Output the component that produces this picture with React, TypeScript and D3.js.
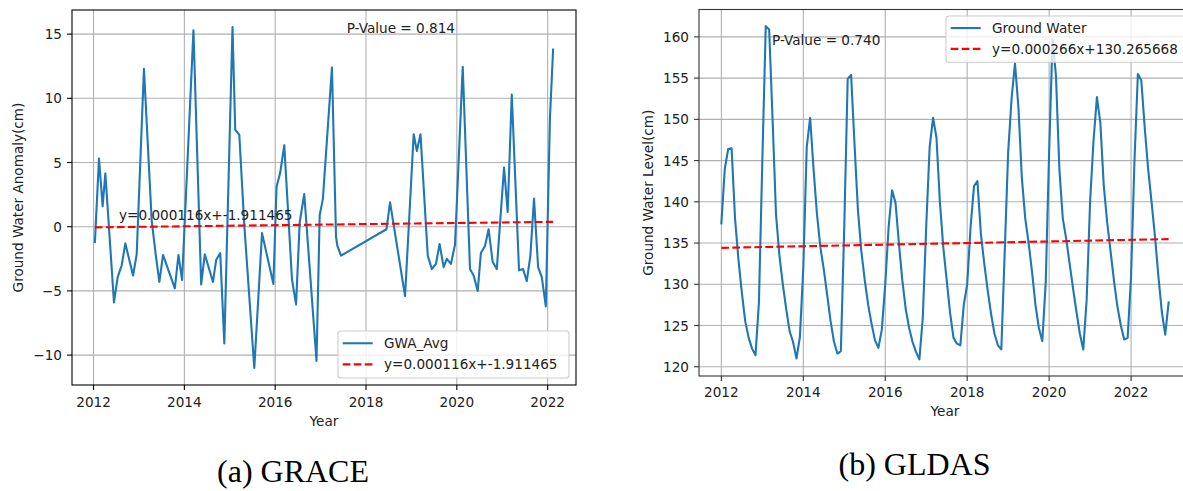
import React from 'react';
import * as d3 from 'd3';

// ---------- GRACE (a) ----------
const graceYears = [
  2012.03, 2012.12, 2012.2, 2012.26, 2012.45, 2012.53, 2012.62, 2012.7, 2012.87, 2012.95,
  2013.11, 2013.28, 2013.37, 2013.45, 2013.53, 2013.79, 2013.87, 2013.95,
  2014.2, 2014.37, 2014.45, 2014.63, 2014.7, 2014.79, 2014.88,
  2015.06, 2015.12, 2015.21, 2015.32, 2015.54, 2015.71, 2015.96,
  2016.03, 2016.11, 2016.2, 2016.37, 2016.46, 2016.54, 2016.64, 2016.91, 2016.98,
  2017.05, 2017.25, 2017.34, 2017.37, 2017.45,
  2018.45, 2018.53, 2018.86,
  2019.05, 2019.12, 2019.2, 2019.36, 2019.45, 2019.54, 2019.62, 2019.71, 2019.78, 2019.87, 2019.96,
  2020.13, 2020.29, 2020.37, 2020.46, 2020.53, 2020.62, 2020.7, 2020.79, 2020.88,
  2021.04, 2021.12, 2021.21, 2021.37, 2021.46, 2021.54, 2021.62, 2021.7, 2021.79, 2021.87, 2021.96,
  2022.05, 2022.12,
];
const graceValues = [
  -1.2, 5.3, 1.6, 4.15, -5.9, -3.95, -3.0, -1.3, -3.8, -2.15,
  12.3, 0.5, -2.2, -4.3, -2.2, -4.8, -2.2, -4.15,
  15.3, -4.5, -2.15, -4.3, -2.6, -2.05, -9.1,
  15.55, 7.55, 7.15, 0.1, -11.0, -0.5, -4.45,
  3.1, 4.2, 6.35, -4.1, -6.05, 0.35, 2.55, -10.45, 0.9,
  2.15, 12.4, -0.8, -1.5, -2.25,
  -0.2, 1.9, -5.4,
  7.2, 5.9, 7.2, -2.25, -3.3, -2.9, -1.35, -3.15, -2.5, -2.9, -1.4,
  12.45, -3.3, -3.8, -5.0, -2.05, -1.5, -0.2, -2.75, -3.3,
  4.6, 1.15, 10.3, -3.4, -3.3, -4.25, -2.25, 2.2, -3.15, -3.9, -6.2,
  8.4, 13.8,
];
const graceTrendYears = [2012.03, 2022.12];
const graceTrendValues = [-0.05, 0.38];
const graceYTicks = [-10, -5, 0, 5, 10, 15];

// ---------- GLDAS (b) ----------
const gldasYearList = [2012, 2013, 2014, 2015, 2016, 2017, 2018, 2019, 2020, 2021, 2022];
const gldas2012 = [137.4, 144.0, 146.4, 146.5, 138.0, 133.0, 129.0, 125.5, 123.5, 122.2, 121.4, 127.8];
const gldas2013 = [145.0, 161.3, 160.9, 150.0, 138.5, 133.5, 130.0, 127.0, 124.3, 123.0, 121.0, 123.6];
const gldas2014 = [132.0, 146.6, 150.2, 144.0, 138.5, 134.5, 131.8, 128.7, 125.5, 123.0, 121.6, 121.9];
const gldas2015 = [137.0, 154.9, 155.4, 147.0, 139.0, 134.0, 130.5, 127.5, 125.2, 123.2, 122.3, 124.5];
const gldas2016 = [130.0, 137.0, 141.4, 139.9, 135.0, 130.5, 127.0, 124.7, 123.0, 121.8, 120.9, 126.0];
const gldas2017 = [137.0, 146.6, 150.2, 147.8, 140.0, 134.5, 130.5, 126.5, 123.5, 122.8, 122.6, 127.5];
const gldas2018 = [130.0, 137.0, 141.9, 142.5, 136.2, 132.5, 129.3, 126.4, 124.0, 122.6, 122.1, 134.0];
const gldas2019 = [146.0, 152.5, 156.8, 151.5, 143.0, 138.0, 135.0, 131.5, 127.5, 124.7, 123.1, 130.2];
const gldas2020 = [146.0, 159.7, 155.3, 144.0, 138.0, 135.5, 132.5, 129.5, 126.7, 124.0, 122.1, 128.2];
const gldas2021 = [140.0, 147.4, 152.7, 149.6, 142.0, 137.5, 134.0, 130.4, 127.3, 125.0, 123.3, 123.5];
const gldas2022 = [131.0, 145.0, 155.5, 154.7, 149.0, 144.0, 140.0, 135.8, 131.0, 126.7, 123.9, 127.8];
const gldasByYear = [gldas2012, gldas2013, gldas2014, gldas2015, gldas2016, gldas2017, gldas2018, gldas2019, gldas2020, gldas2021, gldas2022];
const gldasTrendYears = [2012.0, 2022.917];
const gldasTrendValues = [134.42, 135.48];
const gldasYTicks = [120, 125, 130, 135, 140, 145, 150, 155, 160];

const xTickYears = [2012, 2014, 2016, 2018, 2020, 2022];

type Pt = { x: number; y: number };

const BLUE = '#1f77b4';
const RED = '#ff0000';
const FONT = 'DejaVu Sans, sans-serif';
const FS = 13.6;

function fmt(v: number) {
  return v < 0 ? '\u2212' + Math.abs(v) : String(v);
}

function padded(ext: [number, number]): [number, number] {
  const r = ext[1] - ext[0];
  return [ext[0] - r * 0.05, ext[1] + r * 0.05];
}

type PanelProps = {
  id: string;
  box: { l: number; r: number; t: number; b: number };
  series: Pt[];
  trend: Pt[];
  yTicks: number[];
  yLabel: string;
  yLabelX: number;
  xLabelY: number;
  xTickLabelY: number;
  pText: string;
  pPos: [number, number];
  eqText?: string;
  eqPos?: [number, number];
  legend: { l: number; r: number; t: number; b: number; label1: string; label2: string };
  spine: string;
};

function Panel(p: PanelProps) {
  const { box } = p;
  const all = p.series.concat(p.trend);
  const x = d3.scaleLinear().domain(padded(d3.extent(all, (d) => d.x) as [number, number])).range([box.l, box.r]);
  const y = d3.scaleLinear().domain(padded(d3.extent(all, (d) => d.y) as [number, number])).range([box.b, box.t]);
  const line = d3.line<Pt>().x((d) => x(d.x)).y((d) => y(d.y));
  const lg = p.legend;
  const row1 = lg.t + (lg.b - lg.t) * 0.25 + 0.5;
  const row2 = lg.t + (lg.b - lg.t) * 0.7 + 0.5;
  return (
    <g>
      <defs>
        <clipPath id={p.id}>
          <rect x={box.l} y={box.t} width={box.r - box.l} height={box.b - box.t} />
        </clipPath>
      </defs>
      {/* grid */}
      <g stroke="#b0b0b0" strokeWidth={1.1}>
        {xTickYears.map((t) => (
          <line key={'gx' + t} x1={x(t)} x2={x(t)} y1={box.t} y2={box.b} />
        ))}
        {p.yTicks.map((t) => (
          <line key={'gy' + t} x1={box.l} x2={box.r} y1={y(t)} y2={y(t)} />
        ))}
      </g>
      <g clipPath={`url(#${p.id})`}>
        <path d={line(p.series) || ''} fill="none" stroke={BLUE} strokeWidth={2.1} strokeLinejoin="round" strokeLinecap="square" />
        <path d={line(p.trend) || ''} fill="none" stroke={RED} strokeWidth={2.1} strokeDasharray="7.7 3.3" />
      </g>
      {/* spines */}
      <rect x={box.l} y={box.t} width={box.r - box.l} height={box.b - box.t} fill="none" stroke={p.spine} strokeWidth={1.1} />
      {/* ticks */}
      <g stroke={p.spine} strokeWidth={1.1}>
        {xTickYears.map((t) => (
          <line key={'tx' + t} x1={x(t)} x2={x(t)} y1={box.b} y2={box.b + 4.9} />
        ))}
        {p.yTicks.map((t) => (
          <line key={'ty' + t} x1={box.l - 4.9} x2={box.l} y1={y(t)} y2={y(t)} />
        ))}
      </g>
      <g fontFamily={FONT} fontSize={FS} fill="#222">
        {xTickYears.map((t) => (
          <text key={'lx' + t} x={x(t)} y={p.xTickLabelY} textAnchor="middle">
            {String(t)}
          </text>
        ))}
        {p.yTicks.map((t) => (
          <text key={'ly' + t} x={box.l - 10} y={y(t) + 5} textAnchor="end">
            {fmt(t)}
          </text>
        ))}
        <text x={(box.l + box.r) / 2} y={p.xLabelY} textAnchor="middle">
          Year
        </text>
        <text transform={`translate(${p.yLabelX},${(box.t + box.b) / 2}) rotate(-90)`} textAnchor="middle">
          {p.yLabel}
        </text>
        <text x={p.pPos[0]} y={p.pPos[1]}>
          {p.pText}
        </text>
        {p.eqText && p.eqPos ? (
          <text x={p.eqPos[0]} y={p.eqPos[1]}>
            {p.eqText}
          </text>
        ) : null}
      </g>
      {/* legend */}
      <g>
        <rect x={lg.l} y={lg.t} width={lg.r - lg.l} height={lg.b - lg.t} rx={3} fill="white" fillOpacity={0.8} stroke="#cccccc" strokeWidth={1.1} />
        <line x1={lg.l + 4.7} x2={lg.l + 34.7} y1={row1} y2={row1} stroke={BLUE} strokeWidth={2.1} />
        <line x1={lg.l + 4.7} x2={lg.l + 34.7} y1={row2} y2={row2} stroke={RED} strokeWidth={2.1} strokeDasharray="7.7 3.3" />
        <g fontFamily={FONT} fontSize={FS} fill="#222">
          <text x={lg.l + 46} y={row1 + 5}>
            {lg.label1}
          </text>
          <text x={lg.l + 46} y={row2 + 5}>
            {lg.label2}
          </text>
        </g>
      </g>
    </g>
  );
}

export default function App() {
  const graceSeries: Pt[] = graceYears.map((yr, i) => ({ x: yr, y: graceValues[i] }));
  const graceTrend: Pt[] = graceTrendYears.map((yr, i) => ({ x: yr, y: graceTrendValues[i] }));
  const gldasSeries: Pt[] = [];
  gldasYearList.forEach((yr, yi) => {
    gldasByYear[yi].forEach((v, m) => gldasSeries.push({ x: yr + m / 12, y: v }));
  });
  const gldasTrend: Pt[] = gldasTrendYears.map((yr, i) => ({ x: yr, y: gldasTrendValues[i] }));

  return (
    <svg width={1183} height={491} style={{ position: 'absolute', left: 0, top: 0, background: 'white' }}>
      <rect x={0} y={0} width={1183} height={491} fill="white" />
      <Panel
        id="clipA"
        box={{ l: 72, r: 576, t: 10, b: 385 }}
        series={graceSeries}
        trend={graceTrend}
        yTicks={graceYTicks}
        yLabel="Ground Water Anomaly(cm)"
        yLabelX={23}
        xLabelY={425.5}
        xTickLabelY={406.5}
        pText="P-Value = 0.814"
        pPos={[346.7, 33]}
        eqText="y=0.000116x+-1.911465"
        eqPos={[119, 220]}
        legend={{ l: 338, r: 569, t: 331, b: 378, label1: 'GWA_Avg', label2: 'y=0.000116x+-1.911465' }}
        spine="#000"
      />
      <Panel
        id="clipB"
        box={{ l: 699, r: 1191, t: 9.5, b: 376 }}
        series={gldasSeries}
        trend={gldasTrend}
        yTicks={gldasYTicks}
        yLabel="Ground Water Level(cm)"
        yLabelX={653}
        xLabelY={416}
        xTickLabelY={397}
        pText="P-Value = 0.740"
        pPos={[772, 44.5]}
        legend={{ l: 946, r: 1186, t: 16, b: 62.3, label1: 'Ground Water', label2: 'y=0.000266x+130.265668' }}
        spine="#333"
      />
      <g fontFamily="Liberation Serif, Times New Roman, serif" fontSize={32} fill="#000">
        <text x={293} y={482} textAnchor="middle">
          (a) GRACE
        </text>
        <text x={914.5} y={475} textAnchor="middle">
          (b) GLDAS
        </text>
      </g>
    </svg>
  );
}
